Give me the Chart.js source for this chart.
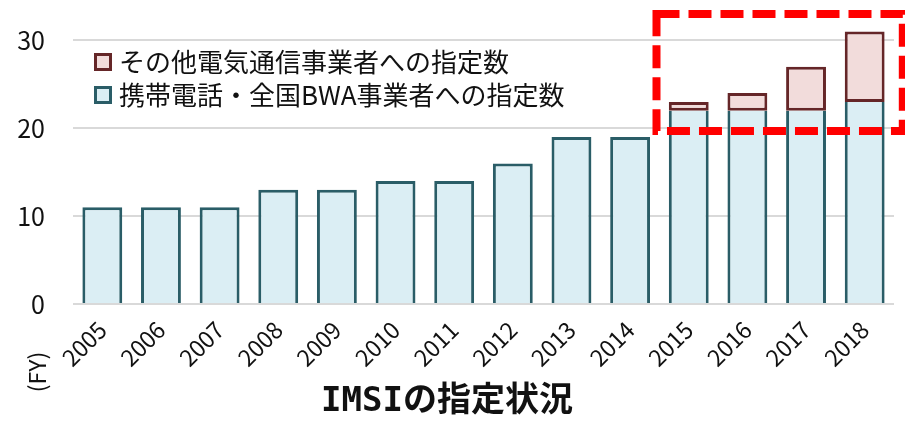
<!DOCTYPE html>
<html lang="ja">
<head>
<meta charset="utf-8">
<title>IMSIの指定状況</title>
<script src="https://cdn.jsdelivr.net/npm/chart.js@4.4.1/dist/chart.umd.min.js"></script>
<style>
  html, body { margin: 0; padding: 0; background: #ffffff; }
  #wrap { width: 905px; height: 423px; position: relative; }
</style>
</head>
<body>
<div id="wrap"><canvas id="imsiChart"></canvas></div>
<script>
const years = ['2005', '2006', '2007', '2008', '2009', '2010', '2011', '2012', '2013', '2014', '2015', '2016', '2017', '2018'];
const mobileBwaCounts = [11, 11, 11, 13, 13, 14, 14, 16, 19, 19, 22, 22, 22, 23];
const otherCarrierCounts = [null, null, null, null, null, null, null, null, null, null, 1, 2, 5, 8];
const yTickValues = [0, 10, 20, 30];
const mobileLabel = '携帯電話・全国BWA事業者への指定数';
const otherLabel = 'その他電気通信事業者への指定数';
const chartTitle = 'IMSIの指定状況';
const fiscalYearNote = '(FY)';
// highlighted region, in category index / value units
const highlightRange = { from: 9.45, to: 13.65, low: 19.7, high: 33 };

const colors = {
  blueFill: '#dbeef4',
  blueBorder: '#2a5d67',
  redFill: '#f2dcdb',
  redBorder: '#652628',
  grid: '#d9d9d9',
  text: '#111111',
  highlight: '#ff0000'
};

const fontFamily = '"Noto Sans CJK JP", "Noto Sans", sans-serif';

const insideLegend = {
  id: 'insideLegend',
  afterDatasetsDraw(chart) {
    const { ctx, chartArea } = chart;
    const items = chart.data.datasets.slice().reverse();
    ctx.save();
    ctx.font = '26px ' + fontFamily;
    ctx.textBaseline = 'middle';
    items.forEach((ds, i) => {
      const cy = chartArea.top + 48 + i * 33;
      const x = chartArea.left + 21;
      ctx.fillStyle = ds.backgroundColor;
      ctx.fillRect(x, cy - 9, 18, 18);
      ctx.lineWidth = 3;
      ctx.strokeStyle = ds.borderColor;
      ctx.strokeRect(x + 1.5, cy - 7.5, 15, 15);
      ctx.fillStyle = colors.text;
      ctx.fillText(ds.label, x + 25, cy);
    });
    ctx.restore();
  }
};

const extras = {
  id: 'extras',
  afterDraw(chart) {
    const { ctx, scales } = chart;
    const x = scales.x;
    const y = scales.y;
    ctx.save();
    // (FY) note under the y axis
    ctx.translate(37, 372);
    ctx.rotate(-Math.PI / 2);
    ctx.font = '23px ' + fontFamily;
    ctx.fillStyle = colors.text;
    ctx.textAlign = 'center';
    ctx.textBaseline = 'middle';
    ctx.fillText(fiscalYearNote, 0, 0);
    ctx.restore();

    ctx.save();
    const left = x.getPixelForValue(highlightRange.from);
    const right = x.getPixelForValue(highlightRange.to);
    const top = y.getPixelForValue(highlightRange.high);
    const bottom = y.getPixelForValue(highlightRange.low);
    ctx.strokeStyle = colors.highlight;
    ctx.lineWidth = 8;
    ctx.setLineDash([23, 9]);
    ctx.strokeRect(left, top, right - left, bottom - top);
    ctx.restore();
  }
};

new Chart(document.getElementById('imsiChart'), {
  type: 'bar',
  data: {
    labels: years,
    datasets: [
      {
        label: mobileLabel,
        data: mobileBwaCounts,
        backgroundColor: colors.blueFill,
        borderColor: colors.blueBorder,
        // no top edge where the other series sits on top
        borderWidth: (c) => (otherCarrierCounts[c.dataIndex] ? { top: 0, left: 3, right: 3, bottom: 0 } : 3),
        barPercentage: 0.68,
        categoryPercentage: 1
      },
      {
        label: otherLabel,
        data: otherCarrierCounts,
        backgroundColor: colors.redFill,
        borderColor: colors.redBorder,
        borderWidth: 3,
        borderSkipped: false,
        barPercentage: 0.68,
        categoryPercentage: 1
      }
    ]
  },
  options: {
    responsive: true,
    maintainAspectRatio: false,
    animation: false,
    layout: { padding: { top: 14, right: 11, left: 0, bottom: 0 } },
    plugins: {
      legend: { display: false },
      tooltip: { enabled: false },
      title: {
        display: true,
        text: chartTitle,
        position: 'bottom',
        color: colors.text,
        padding: 0,
        font: { family: '"DejaVu Sans Mono", "Noto Sans CJK JP", sans-serif', size: 34, weight: 'bold', lineHeight: 1.2 }
      }
    },
    scales: {
      x: {
        stacked: true,
        grid: { display: false },
        border: { display: false },
        ticks: {
          color: colors.text,
          minRotation: 45,
          maxRotation: 45,
          padding: 4,
          font: { family: fontFamily, size: 23 }
        },
        afterFit(scale) {
          scale.height = 78.2;
          scale.paddingTop = 0;
          scale.paddingRight = 0;
        }
      },
      y: {
        stacked: true,
        min: 0,
        max: highlightRange.high,
        border: { display: false },
        grid: { color: colors.grid, lineWidth: 2, drawTicks: false },
        ticks: {
          color: colors.text,
          padding: 28,
          font: { family: fontFamily, size: 25 }
        },
        afterBuildTicks(scale) { scale.ticks = yTickValues.map((v) => ({ value: v })); },
        afterFit(scale) {
          scale.width = 73;
          scale.paddingTop = 0;
          scale.paddingBottom = 0;
        }
      }
    }
  },
  plugins: [insideLegend, extras]
});
</script>
</body>
</html>
